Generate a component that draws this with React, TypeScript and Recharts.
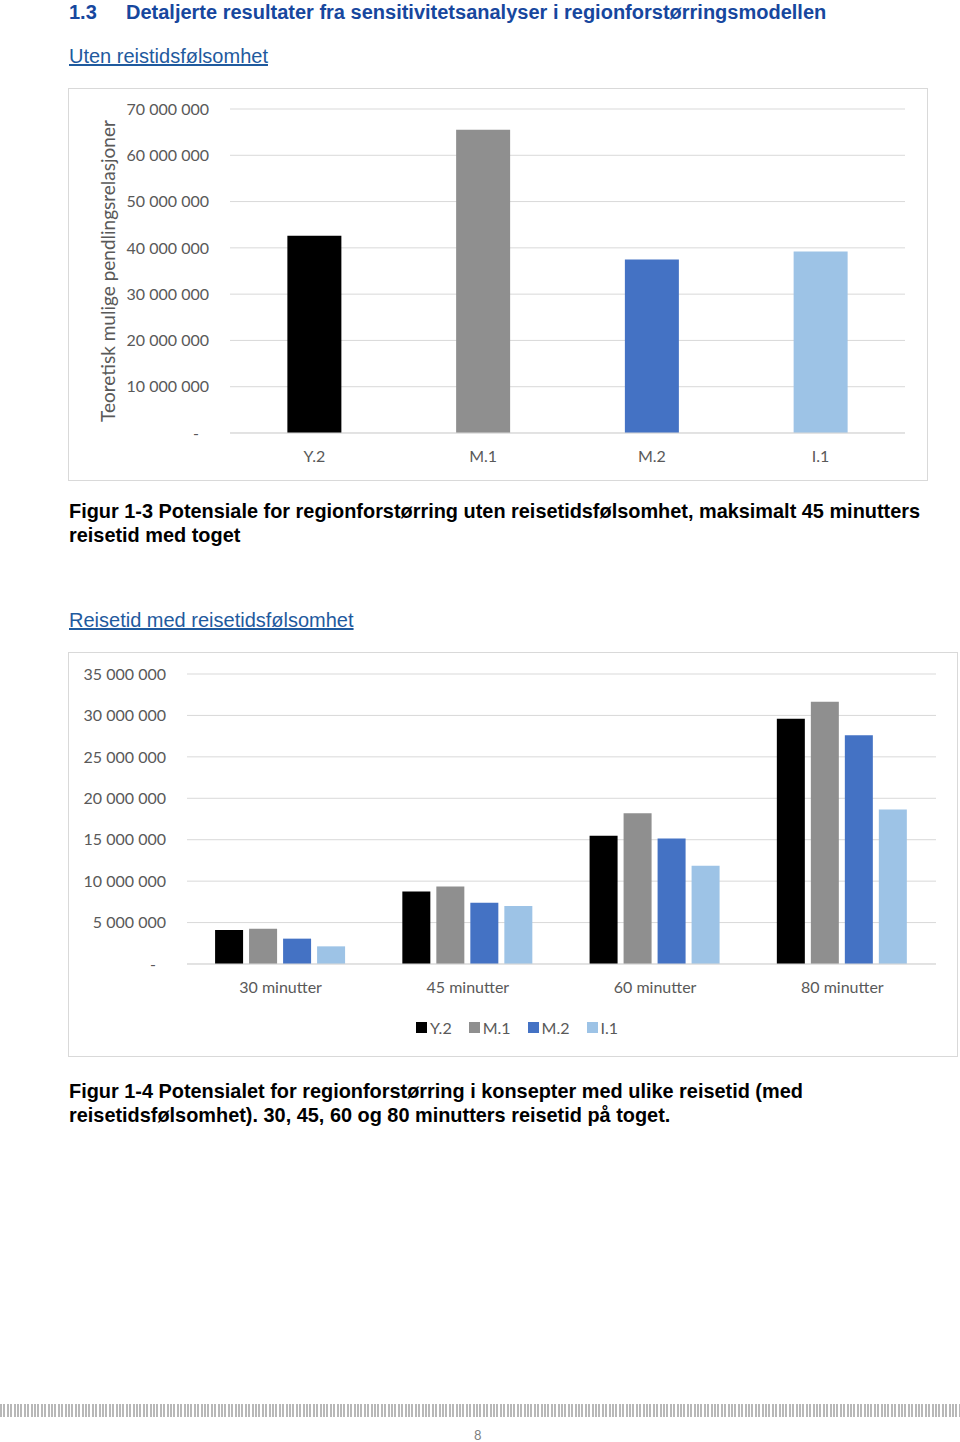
import React from "react";
import { BarChart, Bar, XAxis, YAxis, CartesianGrid, Cell, Legend } from "recharts";

// Figur 1-3: uten reisetidsfølsomhet
const concepts = ["Y.2", "M.1", "M.2", "I.1"];
const conceptValues = [42600000, 65500000, 37500000, 39200000];
const conceptColors = ["#000000", "#8f8f8f", "#4472c4", "#9dc3e6"];
const ticks1 = [0, 10000000, 20000000, 30000000, 40000000, 50000000, 60000000, 70000000];

// Figur 1-4: med reisetidsfølsomhet
const travelTimes = ["30 minutter", "45 minutter", "60 minutter", "80 minutter"];
const y2Values = [4100000, 8760000, 15470000, 29600000];
const m1Values = [4250000, 9360000, 18200000, 31660000];
const m2Values = [3060000, 7400000, 15150000, 27600000];
const i1Values = [2130000, 7000000, 11850000, 18650000];
const ticks2 = [0, 5000000, 10000000, 15000000, 20000000, 25000000, 30000000, 35000000];

const data1 = concepts.map((c, i) => ({ name: c, value: conceptValues[i] }));
const data2 = travelTimes.map((t, i) => ({
  name: t,
  "Y.2": y2Values[i],
  "M.1": m1Values[i],
  "M.2": m2Values[i],
  "I.1": i1Values[i],
}));

const FONT = "Lato, 'Open Sans', sans-serif";
const TICK_COLOR = "#595959";
const GRID = "#d9d9d9";

const fmt = (v: number) => String(v).replace(/\B(?=(\d{3})+(?!\d))/g, " ");

const YTick = ({ x, y, payload }: any) => (
  <text
    x={x - (payload.value === 0 ? 10 : 0)}
    y={y}
    dy="0.355em"
    textAnchor="end"
    fill={TICK_COLOR}
    fontSize={16}
    fontFamily={FONT}
  >
    {payload.value === 0 ? "-" : fmt(payload.value)}
  </text>
);

// keep legend in series order (recharts hands it reversed here)
const LegendContent = ({ payload }: any) => {
  const items = [...(payload || [])].sort(
    (a: any, b: any) => concepts.indexOf(a.value) - concepts.indexOf(b.value)
  );
  return (
    <div style={{ display: "flex", justifyContent: "center", gap: 17, height: 20, alignItems: "center", paddingLeft: 8 }}>
      {items.map((p: any) => (
        <span key={p.value} style={{ display: "flex", alignItems: "center", gap: 3, fontFamily: FONT, fontSize: 16, color: TICK_COLOR }}>
          <span style={{ width: 11, height: 11, background: p.color, display: "inline-block" }} />
          {p.value}
        </span>
      ))}
    </div>
  );
};

const heading: React.CSSProperties = {
  position: "absolute",
  fontFamily: "'Liberation Sans', Arial, sans-serif",
  lineHeight: 1,
  whiteSpace: "nowrap",
};

const box: React.CSSProperties = {
  position: "absolute",
  border: `1px solid ${GRID}`,
  boxSizing: "border-box",
};

export default function App() {
  return (
    <div style={{ position: "absolute", left: 0, top: 0, width: 960, height: 1442, background: "#fff", overflow: "hidden" }}>
      <div style={{ ...heading, left: 69, top: 1.5, fontSize: 20, fontWeight: 700, color: "#17479e" }}>1.3</div>
      <div style={{ ...heading, left: 126, top: 1.5, fontSize: 20, fontWeight: 700, color: "#17479e" }}>
        Detaljerte resultater fra sensitivitetsanalyser i regionforstørringsmodellen
      </div>
      <div style={{ ...heading, left: 69, top: 46, fontSize: 20, color: "#1f5a9e", textDecoration: "underline" }}>
        Uten reistidsfølsomhet
      </div>

      <div style={{ ...box, left: 68, top: 88, width: 860, height: 393 }} />
      <div style={{ position: "absolute", left: 68, top: 88 }}>
        <BarChart width={860} height={393} data={data1} margin={{ top: 21, right: 23, left: 0, bottom: 0 }} barCategoryGap="34%">
          <CartesianGrid vertical={false} stroke={GRID} />
          <XAxis
            dataKey="name"
            axisLine={{ stroke: GRID }}
            tickLine={false}
            tickMargin={12}
            height={48}
            tick={{ fill: TICK_COLOR, fontSize: 16, fontFamily: FONT }}
          />
          <YAxis
            width={162}
            domain={[0, 70000000]}
            ticks={ticks1}
            axisLine={false}
            tickLine={false}
            tickMargin={15}
            tick={<YTick />}
            label={{
              content: ({ viewBox }: any) => (
                <text
                  x={viewBox.x + 39}
                  y={viewBox.y + viewBox.height / 2}
                  transform={`rotate(-90, ${viewBox.x + 39}, ${viewBox.y + viewBox.height / 2})`}
                  textAnchor="middle"
                  dominantBaseline="central"
                  fill={TICK_COLOR}
                  fontSize={19}
                  fontFamily={FONT}
                >
                  Teoretisk mulige pendlingsrelasjoner
                </text>
              ),
            }}
          />
          <Bar dataKey="value" isAnimationActive={false}>
            {data1.map((d, i) => (
              <Cell key={d.name} fill={conceptColors[i]} />
            ))}
          </Bar>
        </BarChart>
      </div>

      <div style={{ ...heading, left: 69, top: 499, fontSize: 19.9, fontWeight: 700, color: "#000", lineHeight: "24px" }}>
        Figur 1-3 Potensiale for regionforstørring uten reisetidsfølsomhet, maksimalt 45 minutters
        <br />
        reisetid med toget
      </div>

      <div style={{ ...heading, left: 69, top: 610, fontSize: 20, color: "#1f5a9e", textDecoration: "underline" }}>
        Reisetid med reisetidsfølsomhet
      </div>

      <div style={{ ...box, left: 68, top: 652, width: 890, height: 405 }} />
      <div style={{ position: "absolute", left: 68, top: 652 }}>
        <BarChart width={890} height={405} data={data2} margin={{ top: 22, right: 22, left: 0, bottom: 0 }} barCategoryGap="15%" barGap={6}>
          <CartesianGrid vertical={false} stroke={GRID} />
          <XAxis
            dataKey="name"
            axisLine={{ stroke: GRID }}
            tickLine={false}
            tickMargin={12}
            height={73}
            tick={{ fill: TICK_COLOR, fontSize: 16, fontFamily: FONT }}
          />
          <YAxis
            width={119}
            domain={[0, 35000000]}
            ticks={ticks2}
            axisLine={false}
            tickLine={false}
            tickMargin={15}
            tick={<YTick />}
          />
          <Legend
            content={<LegendContent />}
            wrapperStyle={{ position: "absolute", top: 365, left: 0, width: 890, height: 20 }}
          />
          <Bar dataKey="Y.2" fill={conceptColors[0]} isAnimationActive={false} />
          <Bar dataKey="M.1" fill={conceptColors[1]} isAnimationActive={false} />
          <Bar dataKey="M.2" fill={conceptColors[2]} isAnimationActive={false} />
          <Bar dataKey="I.1" fill={conceptColors[3]} isAnimationActive={false} />
        </BarChart>
      </div>

      <div style={{ ...heading, left: 69, top: 1079, fontSize: 19.9, fontWeight: 700, color: "#000", lineHeight: "24px" }}>
        Figur 1-4 Potensialet for regionforstørring i konsepter med ulike reisetid (med
        <br />
        reisetidsfølsomhet). 30, 45, 60 og 80 minutters reisetid på toget.
      </div>

      <div
        style={{
          position: "absolute",
          left: 0,
          top: 1404,
          width: 960,
          height: 13,
          background: "repeating-linear-gradient(to right, #b8b8b8 0px, #b8b8b8 2px, transparent 2px, transparent 3.4px)",
        }}
      />
      <div style={{ ...heading, left: 474, top: 1429, fontSize: 13, color: "#7f7f7f", fontFamily: FONT }}>8</div>
    </div>
  );
}
